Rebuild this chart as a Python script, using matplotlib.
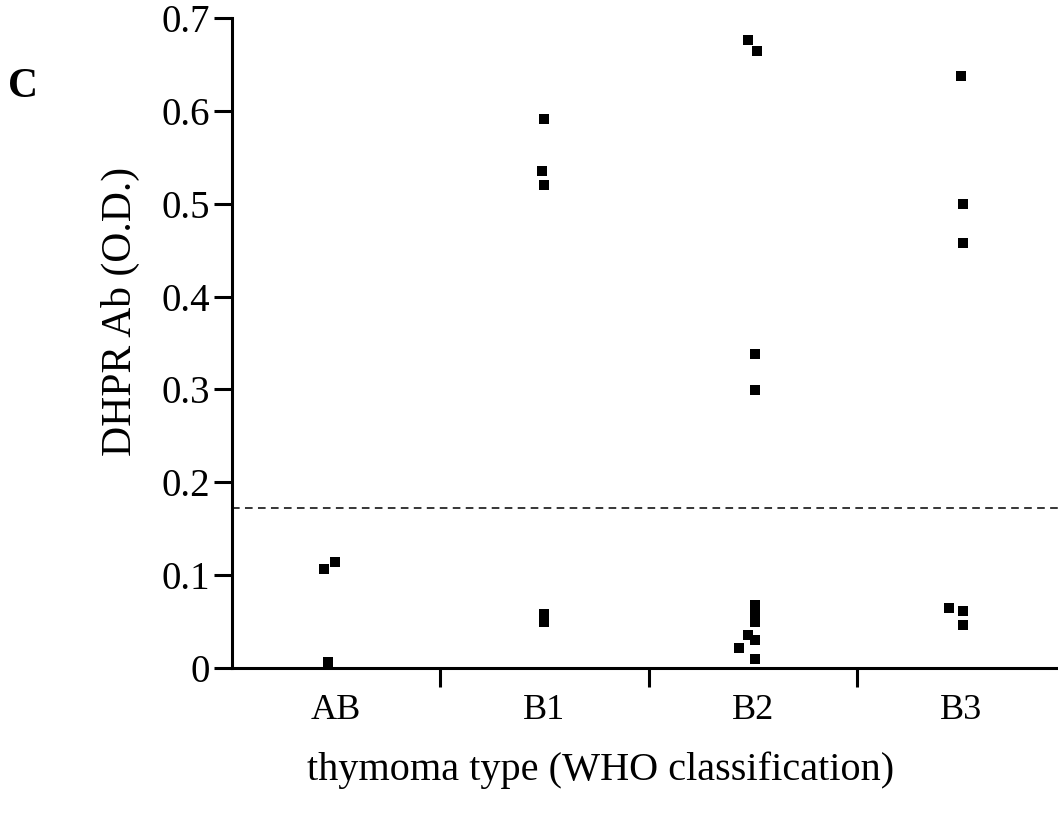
import numpy as np
import matplotlib
matplotlib.use("Agg")
import matplotlib.pyplot as plt

plt.rcParams['font.family'] = ['Liberation Serif', 'DejaVu Serif']

# thymoma groups (WHO classification)
groups = ['AB', 'B1', 'B2', 'B3']

# DHPR Ab O.D. per patient
ab_vals = [0.107, 0.114, 0.006]
b1_vals = [0.591, 0.535, 0.520, 0.058, 0.049]
b2_vals = [0.676, 0.664, 0.338, 0.299, 0.068, 0.059, 0.050, 0.035, 0.030, 0.022, 0.010]
b3_vals = [0.637, 0.500, 0.458, 0.065, 0.061, 0.046]

# horizontal scatter offsets of the points within each group
ab_jit = [-0.06, -0.005, -0.04]
b1_jit = [0.0, -0.013, 0.0, 0.0, 0.0]
b2_jit = [-0.022, 0.022, 0.01, 0.01, 0.01, 0.01, 0.01, -0.022, 0.01, -0.068, 0.01]
b3_jit = [0.0, 0.01, 0.01, -0.06, 0.01, 0.01]

cutoff = 0.172
yticks = [0, 0.1, 0.2, 0.3, 0.4, 0.5, 0.6, 0.7]
ytick_labels = ['0', '0.1', '0.2', '0.3', '0.4', '0.5', '0.6', '0.7']

fig = plt.figure(figsize=(10.58, 8.14), dpi=100)
ax = fig.add_axes([0.2193, 0.1794, 0.7807, 0.7985])

all_vals = [ab_vals, b1_vals, b2_vals, b3_vals]
all_jit = [ab_jit, b1_jit, b2_jit, b3_jit]
for i, (vals, jit) in enumerate(zip(all_vals, all_jit)):
    x = i + np.array(jit)
    ax.plot(x, vals, 's', color='black', markersize=7.4, markeredgewidth=0, clip_on=False)

ax.axhline(cutoff, color='black', linewidth=1.1, linestyle=(0, (5, 3.5)))

ax.set_xlim(-0.5, 3.465)
ax.set_ylim(0, 0.7)

for side in ['top', 'right']:
    ax.spines[side].set_visible(False)
for side in ['left', 'bottom']:
    ax.spines[side].set_linewidth(2.2)

ax.set_yticks(yticks)
ax.set_yticklabels(ytick_labels)
ax.set_xticks(range(len(groups)))
ax.set_xticklabels(groups)
ax.set_xticks([0.5, 1.5, 2.5], minor=True)
ax.tick_params(axis='x', which='major', length=0, pad=19, labelsize=26)
ax.tick_params(axis='x', which='minor', length=14, width=2.2, direction='out')
ax.tick_params(axis='y', length=13, width=2.2, direction='out', labelsize=28, pad=3)

# axis titles placed as in the original figure
fig.text(601 / 1058, 1 - 770 / 814, 'thymoma type (WHO classification)',
         fontsize=29, ha='center', va='center')
fig.text(120 / 1058, 1 - 311 / 814, 'DHPR Ab (O.D.)', fontsize=30,
         rotation=90, ha='center', va='center')

fig.text(8 / 1058, 1 - 97 / 814, 'C', fontsize=30, fontweight='bold')

fig.savefig('out.png', dpi=100)
